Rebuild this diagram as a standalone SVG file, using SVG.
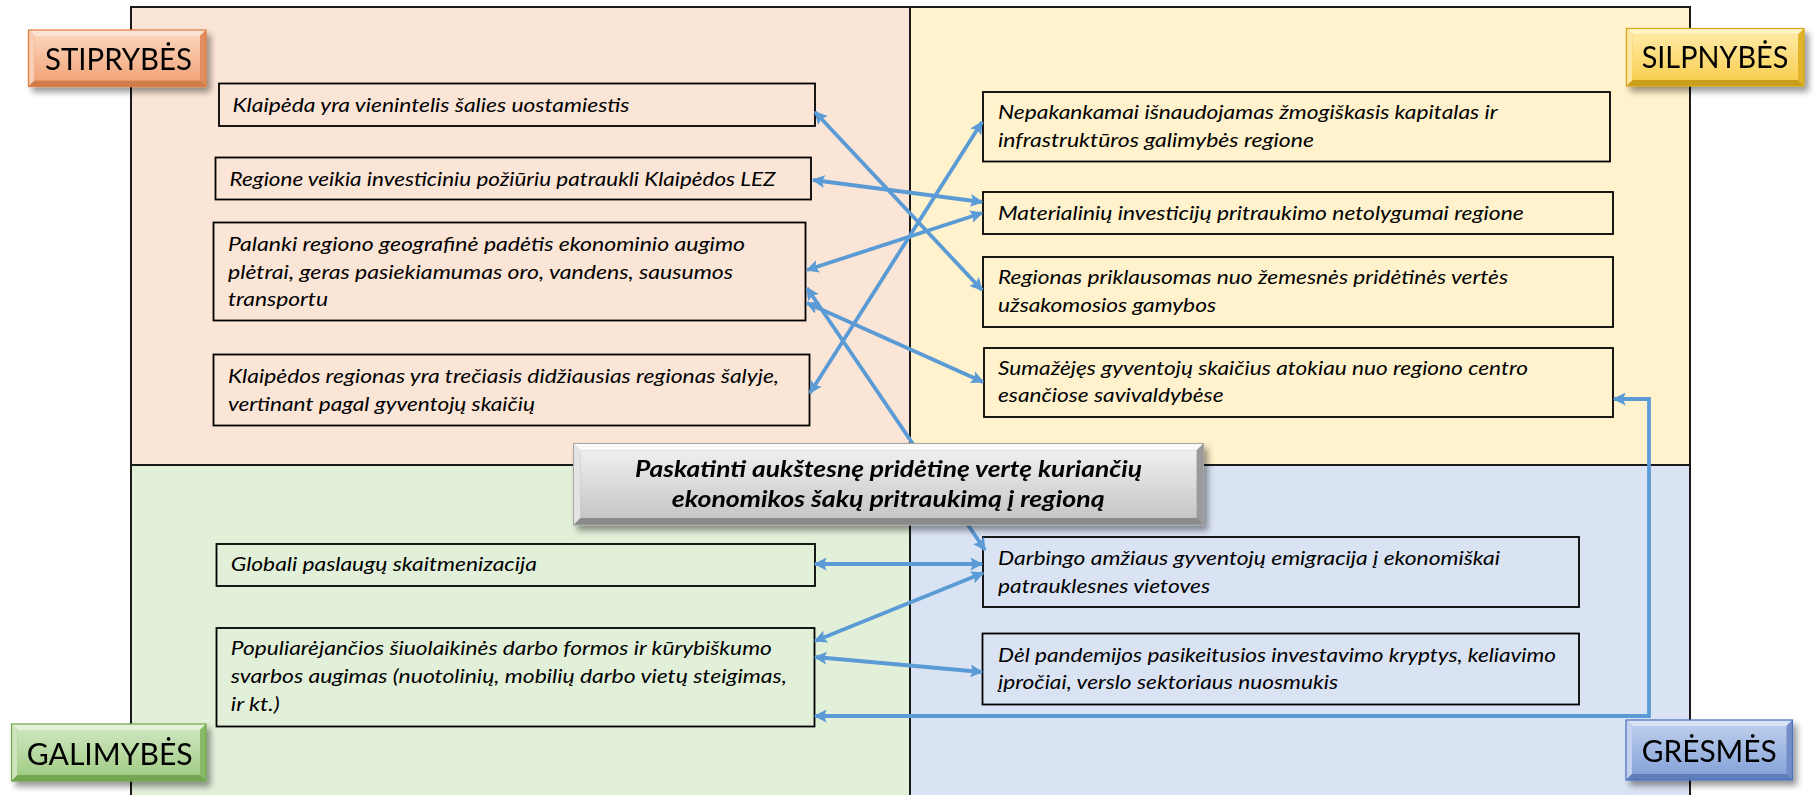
<svg xmlns="http://www.w3.org/2000/svg" width="1814" height="795" viewBox="0 0 1814 795">
<defs>
<style>
.frame{fill:none;stroke:#1a1a1a;stroke-width:2}
.box{stroke:#000;stroke-width:1.8}
.tl{fill:#FBE5D6}.tr{fill:#FFF2CC}.bl{fill:#E2F0D9}.br{fill:#DAE3F3}
.t{font-family:Lato,"Liberation Sans",sans-serif;font-style:italic;font-size:19.5px;fill:#000}
.lab{font-family:Lato,"Liberation Sans",sans-serif;font-size:30px;fill:#000}
.ctr{font-family:Lato,"Liberation Sans",sans-serif;font-style:italic;font-weight:bold;font-size:22px;fill:#000}
.c{fill:none;stroke:#5B9BD5;stroke-width:3.8;marker-start:url(#ah);marker-end:url(#ah)}
</style>
<marker id="ah" viewBox="0 0 10 10" refX="9" refY="5" markerWidth="13" markerHeight="13" markerUnits="userSpaceOnUse" orient="auto-start-reverse"><path d="M0,0 L10,5 L0,10 L2,5 z" fill="#5B9BD5"/></marker>
<filter id="sh" x="-10%" y="-20%" width="130%" height="150%"><feDropShadow dx="4" dy="5" stdDeviation="3" flood-color="#000" flood-opacity="0.4"/></filter>
<linearGradient id="gS" x1="0" y1="0" x2="0" y2="1"><stop offset="0" stop-color="#FBD3B9"/><stop offset="1" stop-color="#F2A57A"/></linearGradient>
<linearGradient id="gW" x1="0" y1="0" x2="0" y2="1"><stop offset="0" stop-color="#FFE9A3"/><stop offset="1" stop-color="#F9CF52"/></linearGradient>
<linearGradient id="gO" x1="0" y1="0" x2="0" y2="1"><stop offset="0" stop-color="#CDE5BE"/><stop offset="1" stop-color="#A2CD86"/></linearGradient>
<linearGradient id="gT" x1="0" y1="0" x2="0" y2="1"><stop offset="0" stop-color="#BCCEEB"/><stop offset="1" stop-color="#86A3D9"/></linearGradient>
<linearGradient id="gC" x1="0" y1="0" x2="0" y2="1"><stop offset="0" stop-color="#EFEFEF"/><stop offset="1" stop-color="#C6C6C6"/></linearGradient>
</defs>

<g id="quadrants">
<rect class="tl" x="131" y="7" width="779" height="458"/>
<rect class="tr" x="910" y="7" width="780" height="458"/>
<rect class="bl" x="131" y="465" width="779" height="340"/>
<rect class="br" x="910" y="465" width="780" height="340"/>
<rect class="frame" x="131" y="7" width="1559" height="800"/>
<line class="frame" x1="910" y1="7" x2="910" y2="800"/>
<line class="frame" x1="131" y1="465" x2="1690" y2="465"/>
</g>

<g id="s1"><rect class="box tl" x="219" y="83.5" width="596" height="42.5"/><text class="t" x="232.5" y="111.5" textLength="397" lengthAdjust="spacingAndGlyphs">Klaipėda yra vienintelis šalies uostamiestis</text></g>
<g id="s2"><rect class="box tl" x="215.5" y="157.5" width="595.5" height="42"/><text class="t" x="229.6" y="186" textLength="546" lengthAdjust="spacingAndGlyphs">Regione veikia investiciniu požiūriu patraukli Klaipėdos LEZ</text></g>
<g id="s3"><rect class="box tl" x="213.5" y="222.5" width="592" height="98"/>
<text class="t" x="228" y="250.7" textLength="517" lengthAdjust="spacingAndGlyphs">Palanki regiono geografinė padėtis ekonominio augimo</text>
<text class="t" x="228" y="278.7" textLength="505" lengthAdjust="spacingAndGlyphs">plėtrai, geras pasiekiamumas oro, vandens, sausumos</text>
<text class="t" x="228" y="306" textLength="100" lengthAdjust="spacingAndGlyphs">transportu</text></g>
<g id="s4"><rect class="box tl" x="213.5" y="354.5" width="596" height="71"/>
<text class="t" x="228" y="383.3" textLength="551" lengthAdjust="spacingAndGlyphs">Klaipėdos regionas yra trečiasis didžiausias regionas šalyje,</text>
<text class="t" x="228" y="410.7" textLength="307" lengthAdjust="spacingAndGlyphs">vertinant pagal gyventojų skaičių</text></g>

<g id="w1"><rect class="box tr" x="983" y="92" width="627" height="69.5"/>
<text class="t" x="998" y="119" textLength="499.5" lengthAdjust="spacingAndGlyphs">Nepakankamai išnaudojamas žmogiškasis kapitalas ir</text>
<text class="t" x="998" y="146.7" textLength="316" lengthAdjust="spacingAndGlyphs">infrastruktūros galimybės regione</text></g>
<g id="w2"><rect class="box tr" x="983" y="192" width="630" height="42"/>
<text class="t" x="998" y="220" textLength="525.7" lengthAdjust="spacingAndGlyphs">Materialinių investicijų pritraukimo netolygumai regione</text></g>
<g id="w3"><rect class="box tr" x="983" y="257" width="630" height="70"/>
<text class="t" x="998" y="284.3" textLength="510" lengthAdjust="spacingAndGlyphs">Regionas priklausomas nuo žemesnės pridėtinės vertės</text>
<text class="t" x="998" y="311.7" textLength="218" lengthAdjust="spacingAndGlyphs">užsakomosios gamybos</text></g>
<g id="w4"><rect class="box tr" x="984" y="348" width="629" height="69"/>
<text class="t" x="998" y="375" textLength="530" lengthAdjust="spacingAndGlyphs">Sumažėjęs gyventojų skaičius atokiau nuo regiono centro</text>
<text class="t" x="998" y="402.3" textLength="225.5" lengthAdjust="spacingAndGlyphs">esančiose savivaldybėse</text></g>

<g id="o1"><rect class="box bl" x="216.5" y="544" width="598.5" height="42"/>
<text class="t" x="230.8" y="571" textLength="306" lengthAdjust="spacingAndGlyphs">Globali paslaugų skaitmenizacija</text></g>
<g id="o2"><rect class="box bl" x="216.5" y="628" width="598" height="98.5"/>
<text class="t" x="230.8" y="655" textLength="541" lengthAdjust="spacingAndGlyphs">Populiarėjančios šiuolaikinės darbo formos ir kūrybiškumo</text>
<text class="t" x="230.8" y="682.7" textLength="556" lengthAdjust="spacingAndGlyphs">svarbos augimas (nuotolinių, mobilių darbo vietų steigimas,</text>
<text class="t" x="230.8" y="710.7" textLength="49" lengthAdjust="spacingAndGlyphs">ir kt.)</text></g>

<g id="t1"><rect class="box br" x="983" y="537" width="596" height="70"/>
<text class="t" x="998" y="565" textLength="502" lengthAdjust="spacingAndGlyphs">Darbingo amžiaus gyventojų emigracija į ekonomiškai</text>
<text class="t" x="998" y="592.7" textLength="212" lengthAdjust="spacingAndGlyphs">patrauklesnes vietoves</text></g>
<g id="t2"><rect class="box br" x="982.5" y="633.5" width="596.5" height="71"/>
<text class="t" x="998" y="661.7" textLength="558" lengthAdjust="spacingAndGlyphs">Dėl pandemijos pasikeitusios investavimo kryptys, keliavimo</text>
<text class="t" x="998" y="689.3" textLength="340" lengthAdjust="spacingAndGlyphs">įpročiai, verslo sektoriaus nuosmukis</text></g>

<g id="connectors">
<path class="c" d="M815,112 L982,290"/>
<path class="c" d="M813,180 L982,202"/>
<path class="c" d="M982,213 L807,270"/>
<path class="c" d="M982,122 L810,393"/>
<path class="c" d="M807,288 L985,550"/>
<path class="c" d="M807,303 L983,382"/>
<path class="c" d="M815,564 L982,564"/>
<path class="c" d="M983,573 L815,641"/>
<path class="c" d="M815,657 L982,672"/>
<path class="c" d="M1614,399 L1649,399 L1649,716 L815,716"/>
</g>

<g id="center" filter="url(#sh)">
<rect x="573.5" y="443.5" width="630" height="81.5" fill="#B0B0B0"/>
<polygon points="573.5,443.5 1203.5,443.5 1196.5,450.5 580.5,450.5" fill="#FAFAFA"/>
<polygon points="573.5,443.5 580.5,450.5 580.5,518 573.5,525" fill="#E4E4E4"/>
<polygon points="1203.5,443.5 1203.5,525 1196.5,518 1196.5,450.5" fill="#9A9A9A"/>
<polygon points="573.5,525 580.5,518 1196.5,518 1203.5,525" fill="#8A8A8A"/>
<rect x="580.5" y="450.5" width="616" height="67.5" fill="url(#gC)"/>
<rect x="573.5" y="443.5" width="630" height="81.5" fill="none" stroke="#A6A6A6" stroke-width="1"/>
<text class="ctr" x="635" y="476.5" textLength="507" lengthAdjust="spacingAndGlyphs">Paskatinti aukštesnę pridėtinę vertę kuriančių</text>
<text class="ctr" x="671.7" y="507" textLength="433" lengthAdjust="spacingAndGlyphs">ekonomikos šakų pritraukimą į regioną</text>
</g>

<g id="lab-s" filter="url(#sh)">
<rect x="28.5" y="30" width="177.5" height="56.5" fill="#E8956A"/>
<polygon points="28.5,30 206,30 200,36 34.5,36" fill="#FCE2D2"/>
<polygon points="28.5,30 34.5,36 34.5,80.5 28.5,86.5" fill="#F8CDB2"/>
<polygon points="206,30 206,86.5 200,80.5 200,36" fill="#E08D5E"/>
<polygon points="28.5,86.5 34.5,80.5 200,80.5 206,86.5" fill="#D07B4C"/>
<rect x="34.5" y="36" width="165.5" height="44.5" fill="url(#gS)"/>
<rect x="28.5" y="30" width="177.5" height="56.5" fill="none" stroke="#E07B3C" stroke-width="1.2"/>
<text class="lab" x="45" y="70" textLength="147" lengthAdjust="spacingAndGlyphs">STIPRYBĖS</text>
</g>
<g id="lab-w" filter="url(#sh)">
<rect x="1626.5" y="28.5" width="177.5" height="57.5" fill="#E8BE3A"/>
<polygon points="1626.5,28.5 1804,28.5 1798,34.5 1632.5,34.5" fill="#FFF3C6"/>
<polygon points="1626.5,28.5 1632.5,34.5 1632.5,80 1626.5,86" fill="#FFE9A2"/>
<polygon points="1804,28.5 1804,86 1798,80 1798,34.5" fill="#E2B42C"/>
<polygon points="1626.5,86 1632.5,80 1798,80 1804,86" fill="#C99E1E"/>
<rect x="1632.5" y="34.5" width="165.5" height="45.5" fill="url(#gW)"/>
<rect x="1626.5" y="28.5" width="177.5" height="57.5" fill="none" stroke="#D4A514" stroke-width="1.2"/>
<text class="lab" x="1641.7" y="68.3" textLength="146.6" lengthAdjust="spacingAndGlyphs">SILPNYBĖS</text>
</g>
<g id="lab-o" filter="url(#sh)">
<rect x="11.5" y="724" width="194.5" height="57" fill="#8DBE6E"/>
<polygon points="11.5,724 206,724 200,730 17.5,730" fill="#E2F1D8"/>
<polygon points="11.5,724 17.5,730 17.5,775 11.5,781" fill="#CDE5BD"/>
<polygon points="206,724 206,781 200,775 200,730" fill="#86B866"/>
<polygon points="11.5,781 17.5,775 200,775 206,781" fill="#74A654"/>
<rect x="17.5" y="730" width="182.5" height="45" fill="url(#gO)"/>
<rect x="11.5" y="724" width="194.5" height="57" fill="none" stroke="#6FA648" stroke-width="1.2"/>
<text class="lab" x="26.7" y="765" textLength="166" lengthAdjust="spacingAndGlyphs">GALIMYBĖS</text>
</g>
<g id="lab-t" filter="url(#sh)">
<rect x="1626" y="720" width="166.5" height="60" fill="#7893CC"/>
<polygon points="1626,720 1792.5,720 1786.5,726 1632,726" fill="#D8E3F4"/>
<polygon points="1626,720 1632,726 1632,774 1626,780" fill="#C2D2ED"/>
<polygon points="1792.5,720 1792.5,780 1786.5,774 1786.5,726" fill="#728DC8"/>
<polygon points="1626,780 1632,774 1786.5,774 1792.5,780" fill="#5F7CBB"/>
<rect x="1632" y="726" width="154.5" height="48" fill="url(#gT)"/>
<rect x="1626" y="720" width="166.5" height="60" fill="none" stroke="#4A72BE" stroke-width="1.2"/>
<text class="lab" x="1641.7" y="762.3" textLength="135" lengthAdjust="spacingAndGlyphs">GRĖSMĖS</text>
</g>
</svg>
